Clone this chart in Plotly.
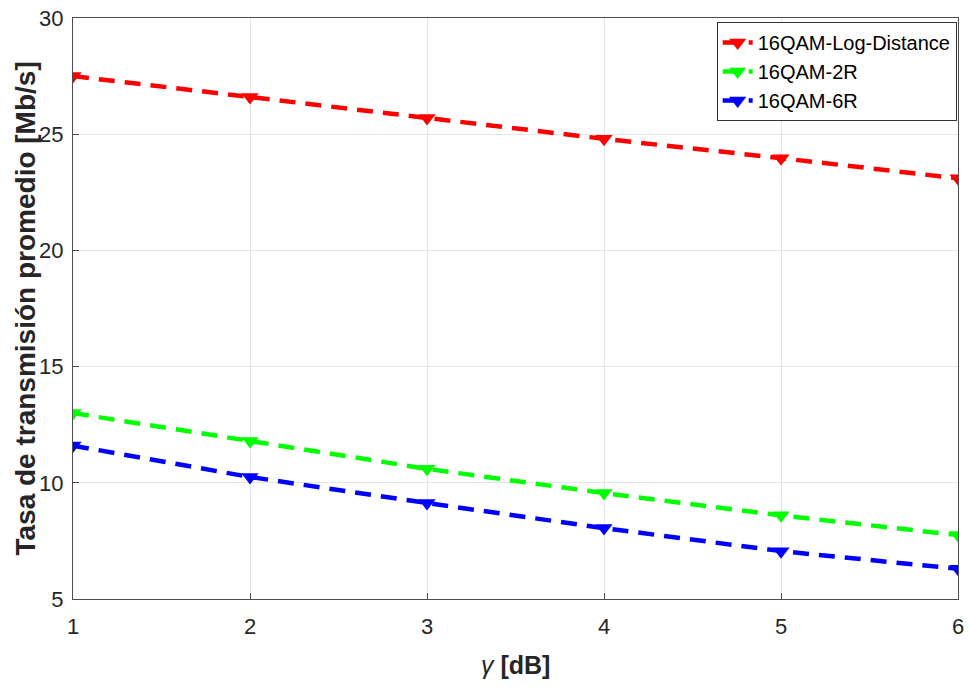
import plotly.graph_objects as go

gamma = [1, 2, 3, 4, 5, 6]
log_distance = [27.5, 26.6, 25.7, 24.8, 23.97, 23.1]
qam_2r = [13.0, 11.8, 10.6, 9.56, 8.6, 7.75]
qam_6r = [11.6, 10.25, 9.13, 8.05, 7.06, 6.3]
names = ["16QAM-Log-Distance", "16QAM-2R", "16QAM-6R"]
colors = ["#ff0000", "#00ff00", "#0000ff"]

fig = go.Figure()
for name, ys, c in zip(names, [log_distance, qam_2r, qam_6r], colors):
    fig.add_trace(go.Scatter(
        x=gamma, y=ys, name=name, mode="lines+markers",
        line=dict(color=c, width=4.5, dash="16px,10px"),
        marker=dict(symbol="triangle-down", size=15, color=c),
    ))

FONT = "Liberation Sans, Arial, sans-serif"
tickfont = dict(family=FONT, size=22, color="#262626")
fig.update_layout(
    width=969, height=692,
    margin=dict(l=73, r=11, t=18, b=93),
    plot_bgcolor="white", paper_bgcolor="white",
    showlegend=True,
    legend=dict(x=0.9985, y=0.993, xanchor="right", yanchor="top",
                bordercolor="#333333", borderwidth=1, bgcolor="white",
                font=dict(family=FONT, size=20, color="black"),
                itemwidth=30, tracegroupgap=0),
    xaxis=dict(range=[1, 6], dtick=1, showgrid=True, gridcolor="#e6e6e6",
               showline=True, linecolor="#4d4d4d", mirror=True, ticks="inside",
               ticklen=6, tickcolor="#4d4d4d", tickfont=tickfont, zeroline=False,
               automargin=False, ticklabelstandoff=8, ticklabeloverflow="allow"),
    yaxis=dict(range=[5, 30], dtick=5, showgrid=True, gridcolor="#e6e6e6",
               showline=True, linecolor="#4d4d4d", mirror=True, ticks="inside",
               ticklen=6, tickcolor="#4d4d4d", tickfont=tickfont, zeroline=False,
               automargin=False, ticklabelstandoff=4, ticklabeloverflow="allow"),
    annotations=[
        dict(text="<b>Tasa de transmisión promedio [Mb/s]</b>", xref="paper", yref="paper",
             x=0, y=0.5, xanchor="center", yanchor="middle", xshift=-48, textangle=-90,
             showarrow=False, font=dict(family=FONT, size=28, color="#262626")),
        dict(text="<i>γ</i> <b>[dB]</b>", xref="paper", yref="paper",
             x=0.5, y=0, xanchor="center", yanchor="middle", yshift=-66,
             showarrow=False, font=dict(family=FONT, size=25, color="#262626")),
    ],
)
fig.write_html("out.html", config={"displayModeBar": False},
               post_script="document.body.style.margin='0';")
